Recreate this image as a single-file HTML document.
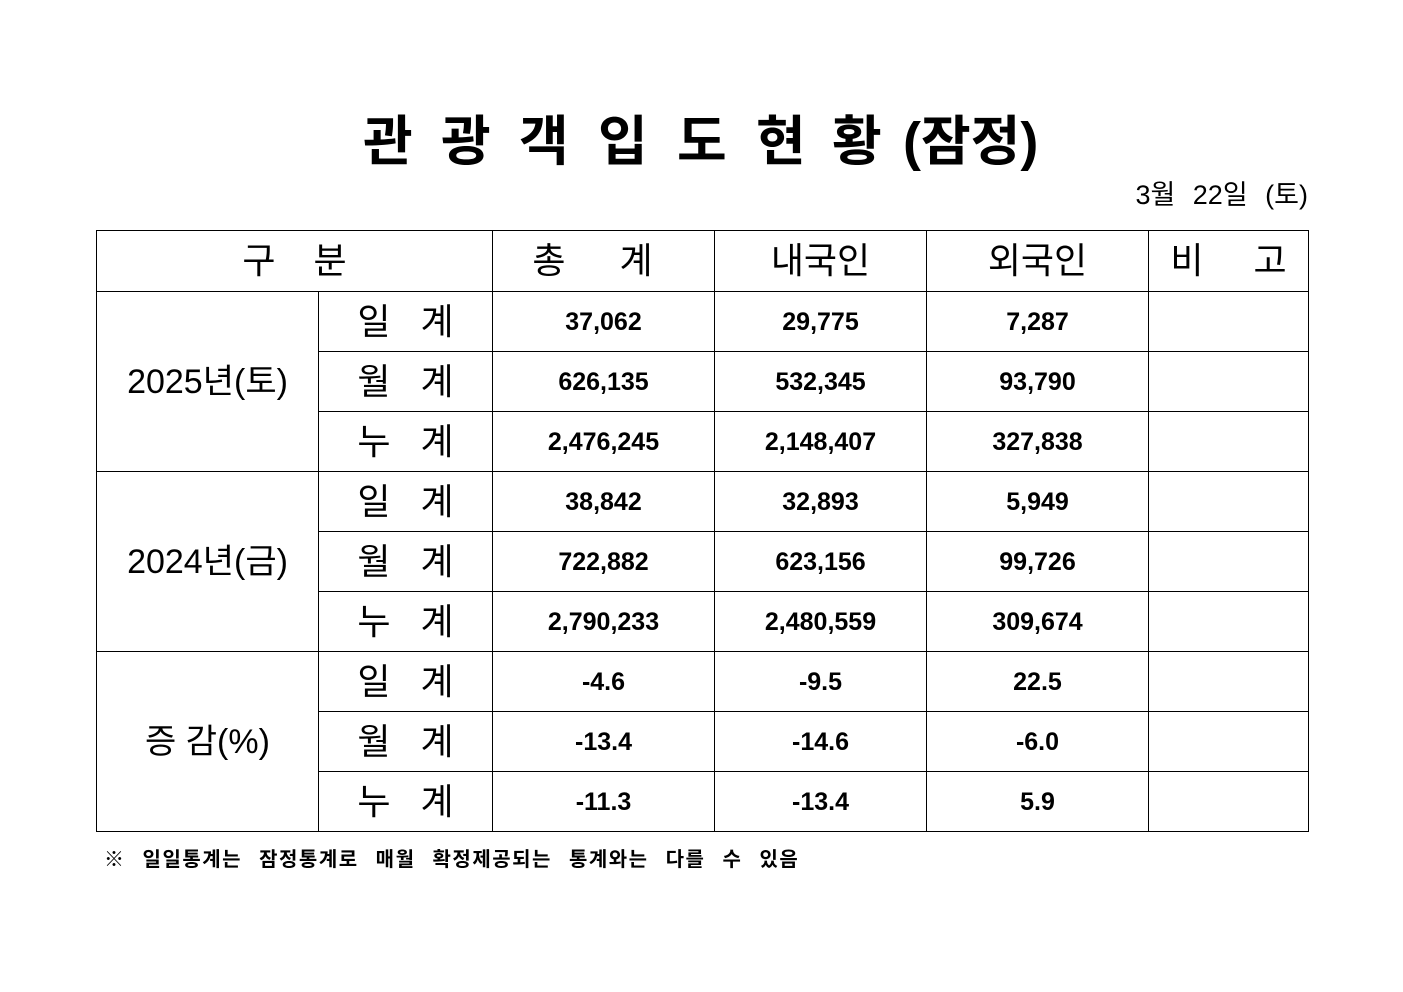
<!DOCTYPE html>
<html><head><meta charset="utf-8"><style>
body{margin:0;width:1403px;height:992px;background:#fff;position:relative;font-family:"Liberation Sans","Noto Sans CJK KR",sans-serif;color:#000;overflow:hidden}
.t{position:absolute;top:110px;font-size:54px;font-weight:bold;line-height:64px}
.d{position:absolute;right:95px;top:178px;font-size:27px;line-height:34px;word-spacing:10px;white-space:nowrap}
table{position:absolute;left:96px;top:230px;border-collapse:collapse;table-layout:fixed}
td{border:1px solid #000;height:59px;padding:0;text-align:center;font-weight:bold;font-size:25px;white-space:nowrap;overflow:hidden;line-height:30px}
td.h{font-weight:normal;font-size:36px}
td.s{font-weight:normal;font-size:36px;letter-spacing:10px;padding-left:10px}
td.g{font-weight:normal;font-size:34px}
.f{position:absolute;left:104px;top:843px;font-size:20px;font-weight:bold;word-spacing:10px;letter-spacing:1.5px;white-space:nowrap}
</style></head><body>
<div class="t" style="left:363px">관</div>
<div class="t" style="left:441px">광</div>
<div class="t" style="left:519px">객</div>
<div class="t" style="left:598px">입</div>
<div class="t" style="left:677px">도</div>
<div class="t" style="left:756px">현</div>
<div class="t" style="left:832px">황</div>
<div class="t" style="left:903px">(잠정)</div>
<div class="d">3월 22일 (토)</div>
<table>
<colgroup><col style="width:222px"><col style="width:174px"><col style="width:222px"><col style="width:212px"><col style="width:222px"><col style="width:160px"></colgroup>
<tr><td class="h" colspan="2" style="height:60px;letter-spacing:14px;padding-left:14px">구 분</td><td class="h" style="letter-spacing:22px">총 계</td><td class="h">내국인</td><td class="h">외국인</td><td class="h" style="letter-spacing:20px;padding-left:20px">비 고</td></tr>
<tr><td class="g" rowspan="3">2025년(토)</td><td class="s">일 계</td><td>37,062</td><td>29,775</td><td>7,287</td><td></td></tr>
<tr><td class="s">월 계</td><td>626,135</td><td>532,345</td><td>93,790</td><td></td></tr>
<tr><td class="s">누 계</td><td>2,476,245</td><td>2,148,407</td><td>327,838</td><td></td></tr>
<tr><td class="g" rowspan="3">2024년(금)</td><td class="s">일 계</td><td>38,842</td><td>32,893</td><td>5,949</td><td></td></tr>
<tr><td class="s">월 계</td><td>722,882</td><td>623,156</td><td>99,726</td><td></td></tr>
<tr><td class="s">누 계</td><td>2,790,233</td><td>2,480,559</td><td>309,674</td><td></td></tr>
<tr><td class="g" rowspan="3">증 감(%)</td><td class="s">일 계</td><td>-4.6</td><td>-9.5</td><td>22.5</td><td></td></tr>
<tr><td class="s">월 계</td><td>-13.4</td><td>-14.6</td><td>-6.0</td><td></td></tr>
<tr><td class="s">누 계</td><td>-11.3</td><td>-13.4</td><td>5.9</td><td></td></tr>
</table>
<div class="f">※ 일일통계는 잠정통계로 매월 확정제공되는 통계와는 다를 수 있음</div>
</body></html>
